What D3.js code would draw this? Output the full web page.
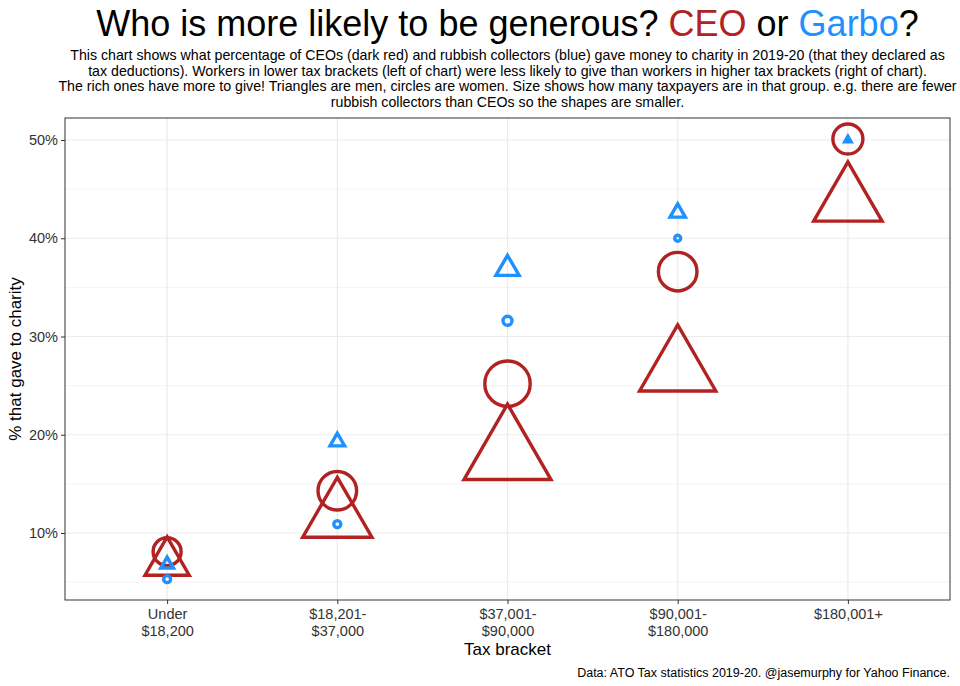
<!DOCTYPE html>
<html>
<head>
<meta charset="utf-8">
<script src="https://cdn.jsdelivr.net/npm/d3@7"></script>
<style>
  body { margin: 0; background: #fff; }
  svg { display: block; font-family: "Liberation Sans", Arial, Helvetica, sans-serif; }
</style>
</head>
<body>
<svg id="chart" width="960" height="686"></svg>
<script>
// ---- data ----
const categories = ["Under\n$18,200", "$18,201-\n$37,000", "$37,001-\n$90,000", "$90,001-\n$180,000", "$180,001+"];
// % that gave to charity
const ceoMen      = [7.0, 11.6, 18.0, 26.7, 43.75];
const ceoWomen    = [8.1, 14.3, 25.2, 36.6, 50.1];
const garboMen    = [6.8, 19.3, 36.9, 42.6, 50.0];
const garboWomen  = [5.3, 10.9, 31.6, 40.0, null];
// number of taxpayers in each group (estimated from shape size)
const ceoMenN     = [6930, 18280, 29610, 22420, 17830];
const ceoWomenN   = [4880, 9890, 14030, 9890, 5690];
const garboMenN   = [320, 475, 1574, 551, 20];
const garboWomenN = [125, 125, 281, 70, null];
const yTicks = [10, 20, 30, 40, 50];
const yMinor = [5, 15, 25, 35, 45];

const colors = { CEO: "#B22222", Garbo: "#1E90FF" };

// build table
const rows = [];
function addSeries(job, sex, vals, ns) {
  vals.forEach((v, i) => {
    if (v == null) return;
    rows.push({ job, sex, cat: categories[i], value: v, n: ns[i] });
  });
}
addSeries("CEO", "men", ceoMen, ceoMenN);
addSeries("CEO", "women", ceoWomen, ceoWomenN);
addSeries("Garbo", "men", garboMen, garboMenN);
addSeries("Garbo", "women", garboWomen, garboWomenN);

// ---- layout ----
const svg = d3.select("#chart");
const panel = { left: 65, right: 950, top: 118, bottom: 600 };

const x = d3.scalePoint().domain(categories).range([panel.left, panel.right]).padding(0.6);
const y = d3.scaleLinear().domain([3.18, 52.24]).range([panel.bottom, panel.top]);
const size = d3.scaleSqrt().domain([0, 30000]).range([1.5, 32.5]);

// title
const title = svg.append("text")
  .attr("x", (panel.left + panel.right) / 2).attr("y", 36)
  .attr("text-anchor", "middle").attr("font-size", 36).attr("fill", "#000");
title.append("tspan").text("Who is more likely to be generous? ");
title.append("tspan").attr("fill", colors.CEO).text("CEO");
title.append("tspan").text(" or ");
title.append("tspan").attr("fill", colors.Garbo).text("Garbo");
title.append("tspan").text("?");

const subtitle = [
  "This chart shows what percentage of CEOs (dark red) and rubbish collectors (blue) gave money to charity in 2019-20 (that they declared as",
  "tax deductions). Workers in lower tax brackets (left of chart) were less likely to give than workers in higher tax brackets (right of chart).",
  "The rich ones have more to give! Triangles are men, circles are women. Size shows how many taxpayers are in that group. e.g. there are fewer",
  "rubbish collectors than CEOs so the shapes are smaller."
];
svg.append("g").selectAll("text").data(subtitle).join("text")
  .attr("x", (panel.left + panel.right) / 2)
  .attr("y", (d, i) => 60 + i * 15.7)
  .attr("text-anchor", "middle").attr("font-size", 14.2).attr("fill", "#000")
  .text(d => d);

// panel background + grid
const g = svg.append("g");
g.append("rect").attr("x", panel.left).attr("y", panel.top)
  .attr("width", panel.right - panel.left).attr("height", panel.bottom - panel.top)
  .attr("fill", "#fff");

g.selectAll(".ymin").data(yMinor).join("line")
  .attr("x1", panel.left).attr("x2", panel.right)
  .attr("y1", d => y(d)).attr("y2", d => y(d))
  .attr("stroke", "#ebebeb").attr("stroke-width", 0.6);
g.selectAll(".ymaj").data(yTicks).join("line")
  .attr("x1", panel.left).attr("x2", panel.right)
  .attr("y1", d => y(d)).attr("y2", d => y(d))
  .attr("stroke", "#ebebeb").attr("stroke-width", 1.2);
g.selectAll(".xmaj").data(categories).join("line")
  .attr("x1", d => x(d)).attr("x2", d => x(d))
  .attr("y1", panel.top).attr("y2", panel.bottom)
  .attr("stroke", "#ebebeb").attr("stroke-width", 1.2);

// points
function triPath(cx, cy, e) {
  const r = 1.555 * e, xc = 1.347 * e, yc = 0.778 * e;
  return `M${cx},${cy - r}L${cx + xc},${cy + yc}L${cx - xc},${cy + yc}Z`;
}
const pts = svg.append("g");
rows.forEach(d => {
  const cx = x(d.cat), cy = y(d.value), e = size(d.n);
  if (d.sex === "men") {
    pts.append("path").attr("d", triPath(cx, cy, e))
      .attr("fill", "none").attr("stroke", colors[d.job])
      .attr("stroke-width", 3.4).attr("stroke-linejoin", "miter");
  } else {
    pts.append("circle").attr("cx", cx).attr("cy", cy).attr("r", e)
      .attr("fill", "none").attr("stroke", colors[d.job]).attr("stroke-width", 3.4);
  }
});

// panel border
svg.append("rect").attr("x", panel.left).attr("y", panel.top)
  .attr("width", panel.right - panel.left).attr("height", panel.bottom - panel.top)
  .attr("fill", "none").attr("stroke", "#333").attr("stroke-width", 1);

// axes
const yAxis = svg.append("g").attr("transform", `translate(${panel.left},0)`)
  .call(d3.axisLeft(y).tickValues(yTicks).tickFormat(d => d + "%").tickSize(4).tickPadding(3));
yAxis.select(".domain").remove();
yAxis.selectAll(".tick line").attr("stroke", "#333");
yAxis.selectAll(".tick text").attr("font-size", 14.5).attr("fill", "#333")
  .attr("font-family", "Liberation Sans, Arial, sans-serif");

const xAxis = svg.append("g").attr("transform", `translate(0,${panel.bottom})`)
  .call(d3.axisBottom(x).tickSize(4).tickFormat(""));
xAxis.select(".domain").remove();
xAxis.selectAll(".tick line").attr("stroke", "#333");
xAxis.selectAll(".tick").each(function(d) {
  const t = d3.select(this).append("text")
    .attr("text-anchor", "middle").attr("font-size", 14.5).attr("fill", "#333")
    .attr("font-family", "Liberation Sans, Arial, sans-serif");
  d.split("\n").forEach((line, i) => {
    t.append("tspan").attr("x", 0).attr("y", 19 + i * 17).text(line);
  });
});

// axis titles
svg.append("text").attr("x", (panel.left + panel.right) / 2).attr("y", 655)
  .attr("text-anchor", "middle").attr("font-size", 17).attr("fill", "#000")
  .text("Tax bracket");
svg.append("text")
  .attr("transform", `translate(21,${(panel.top + panel.bottom) / 2}) rotate(-90)`)
  .attr("text-anchor", "middle").attr("font-size", 17).attr("fill", "#000")
  .text("% that gave to charity");

// caption
svg.append("text").attr("x", panel.right).attr("y", 677)
  .attr("text-anchor", "end").attr("font-size", 12.5).attr("fill", "#000")
  .text("Data: ATO Tax statistics 2019-20. @jasemurphy for Yahoo Finance.");
</script>
</body>
</html>
